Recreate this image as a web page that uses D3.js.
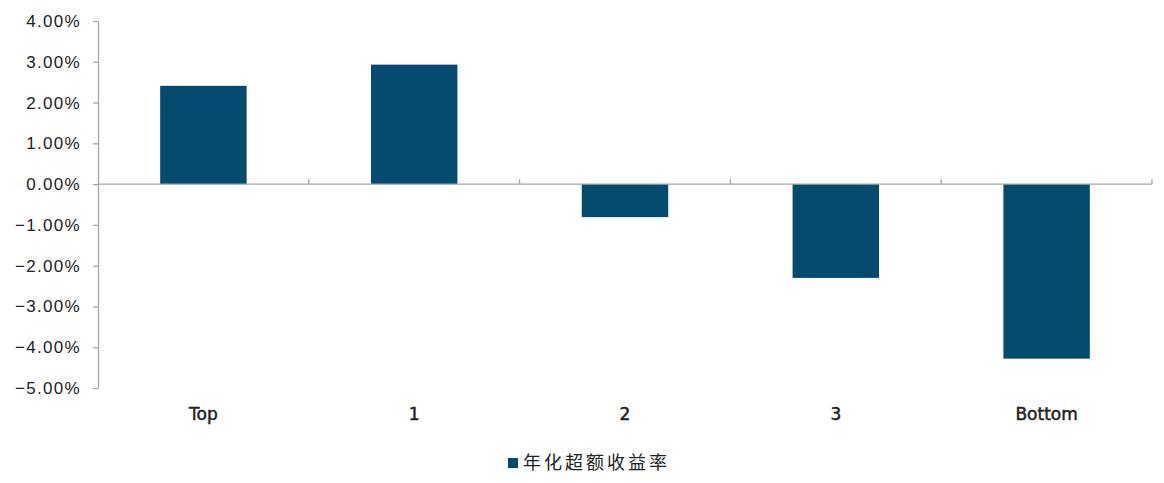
<!DOCTYPE html>
<html lang="zh">
<head>
    <meta charset="UTF-8">
    <script src="https://cdnjs.cloudflare.com/ajax/libs/d3/7.8.5/d3.min.js"></script>
    <style>
        body { margin: 0; background: #fff; }
        svg text { font-family: "Liberation Sans", Arial, sans-serif; fill: #222; }
    </style>
</head>
<body>
<svg id="chart" width="1164" height="483"></svg>
<script>
    const categories = ['Top', '1', '2', '3', 'Bottom'];
    const values = [0.0241, 0.0293, -0.0081, -0.0230, -0.0428];
    const yTicks = [0.04, 0.03, 0.02, 0.01, 0, -0.01, -0.02, -0.03, -0.04, -0.05];
    const seriesName = '年化超额收益率';

    const svg = d3.select('#chart');
    const plotLeft = 98, plotRight = 1152, plotTop = 21, plotBottom = 388;
    const barColor = '#034b6f';
    const axisColor = '#a6a6a6';

    const x = d3.scaleBand().domain(categories).range([plotLeft, plotRight]).padding(0);
    const y = d3.scaleLinear().domain([-0.05, 0.04]).range([plotBottom, plotTop]);
    const barW = x.bandwidth() * 0.41;
    const fmt = d3.format('.2%');

    // y axis
    const yAxis = svg.append('g')
        .attr('transform', `translate(${plotLeft},0)`)
        .call(d3.axisLeft(y).tickValues(yTicks).tickSize(5).tickSizeOuter(0).tickFormat(d => fmt(d)));
    yAxis.select('.domain').attr('stroke', axisColor).attr('stroke-width', 1.3);
    yAxis.selectAll('.tick line').attr('stroke', axisColor).attr('stroke-width', 1.3);
    yAxis.selectAll('.tick text')
        .attr('x', -17)
        .style('font-size', '17px')
        .style('letter-spacing', '1.3px')
        .attr('fill', '#222');

    // bars
    svg.append('g').selectAll('rect')
        .data(values).enter()
        .append('rect')
        .attr('x', (d, i) => x(categories[i]) + (x.bandwidth() - barW) / 2)
        .attr('y', d => y(Math.max(0, d)))
        .attr('width', barW)
        .attr('height', d => Math.abs(y(d) - y(0)))
        .attr('fill', barColor);

    // x axis at zero with boundary ticks pointing up
    const xAxis = svg.append('g').attr('transform', `translate(0,${y(0)})`);
    xAxis.append('line')
        .attr('x1', plotLeft).attr('x2', plotRight)
        .attr('stroke', axisColor).attr('stroke-width', 1.3);
    const bounds = categories.map(c => x(c)).slice(1).concat([plotRight]);
    xAxis.selectAll('.bt').data(bounds).enter()
        .append('line')
        .attr('x1', d => d).attr('x2', d => d)
        .attr('y1', 0).attr('y2', -5)
        .attr('stroke', axisColor).attr('stroke-width', 1.3);

    // category labels
    svg.append('g').selectAll('text')
        .data(categories).enter()
        .append('text')
        .attr('x', d => x(d) + x.bandwidth() / 2)
        .attr('y', 420)
        .attr('text-anchor', 'middle')
        .style('font-family', '"DejaVu Sans", sans-serif')
        .style('font-size', '17px')
        .attr('stroke', '#222')
        .attr('stroke-width', 0.5)
        .text(d => d);

    // legend
    const lg = svg.append('g').attr('transform', 'translate(508,458)');
    lg.append('rect').attr('width', 10).attr('height', 10).attr('fill', barColor);
    lg.append('text')
        .attr('x', 15).attr('y', 11)
        .style('font-family', '"Noto Sans CJK SC", sans-serif')
        .style('font-size', '18px')
        .style('letter-spacing', '3px')
        .text(seriesName);
</script>
</body>
</html>
